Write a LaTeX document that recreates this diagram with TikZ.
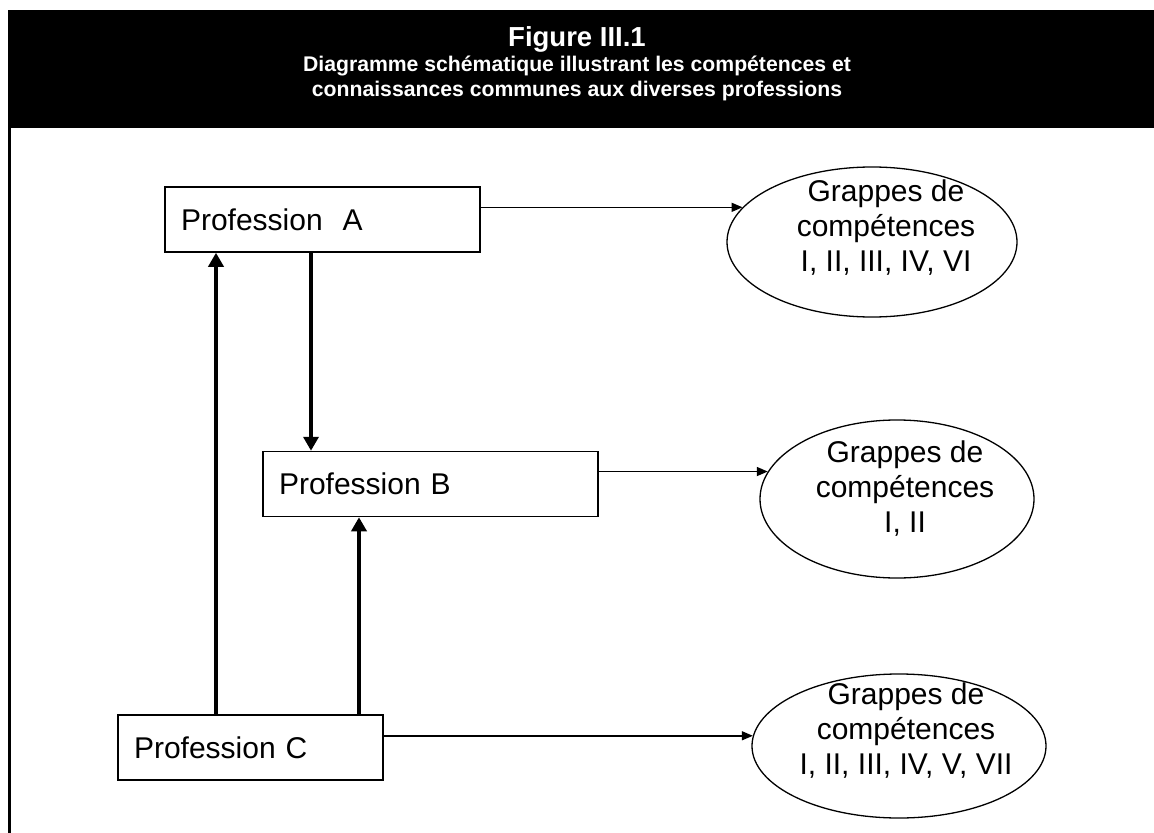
\documentclass[tikz,border=0pt]{standalone}
\usepackage{fontspec}
\setmainfont{Liberation Sans}
\usetikzlibrary{shapes.geometric,arrows.meta,positioning}

\tikzset{
  profbox/.style={draw, line width=1.5bp, rectangle, align=left, inner xsep=16bp,
    minimum height=65bp, font=\fontsize{30bp}{35bp}\selectfont},
  grappe/.style={draw, line width=1.3bp, ellipse, inner sep=0pt},
  grappetext/.style={align=center, inner sep=0pt, font=\fontsize{30bp}{35bp}\selectfont},
  headtext/.style={text=white, align=center, inner sep=0pt, font=\bfseries\fontsize{21.2bp}{25bp}\selectfont},
  link/.style={line width=1.5bp, -{Triangle[length=11bp,width=9bp]}},
  boldlink/.style={line width=4.5bp, -{Triangle[length=14bp,width=15bp]}},
}

\begin{document}
\begin{tikzpicture}[x=1bp, y=-1bp]
  \useasboundingbox (0,0) rectangle (1154,833);

  % header band
  \fill[black] (8,10) rectangle (1154,128);
  \draw[line width=3bp] (9.5,128) -- (9.5,833);
  \node[headtext, font=\bfseries\fontsize{27.5bp}{30bp}\selectfont] (title) at (577,39) {Figure III.1};
  \node[headtext] (subtitle) at (577,78) {Diagramme schématique illustrant les compétences et\\
    connaissances communes aux diverses professions};

  % professions
  \node[profbox, text width=283bp] (A) at (322.5,219.5) {Profession~~A};
  \node[profbox, text width=303bp] (B) at (430.5,484) {Profession B};
  \node[profbox, text width=233bp] (C) at (250.5,747.5) {Profession C};

  % grappes de competences
  \node[grappe, minimum width=290bp, minimum height=150bp] (g1) at (872,242) {};
  \node[grappetext] (t1) at (886,228) {Grappes de\\compétences\\I, II, III, IV, VI};
  \node[grappe, minimum width=274bp, minimum height=158bp] (g2) at (897,499) {};
  \node[grappetext] (t2) at (905,489) {Grappes de\\compétences\\I, II};
  \node[grappe, minimum width=294bp, minimum height=144bp] (g3) at (899,746) {};
  \node[grappetext] (t3) at (906,731) {Grappes de\\compétences\\I, II, III, IV, V, VII};

  % thin arrows
  \draw[link] (A.east |- g1.165.3) -- (g1.165.3);
  \draw[link] (B.east |- g2.168) -- (g2.168);
  \draw[link] (C.east |- g3.176.5) -- (g3.176.5);

  % thick arrows
  \coordinate (ab) at ([xshift=-11.5bp]A.south);
  \coordinate (ca) at ([xshift=-34.5bp]C.north);
  \coordinate (cb) at ([xshift=108.5bp]C.north);
  \draw[boldlink] (ab) -- (ab |- B.north);
  \draw[boldlink] (ca) -- (ca |- A.south);
  \draw[boldlink] (cb) -- (cb |- B.south);
\end{tikzpicture}
\end{document}
